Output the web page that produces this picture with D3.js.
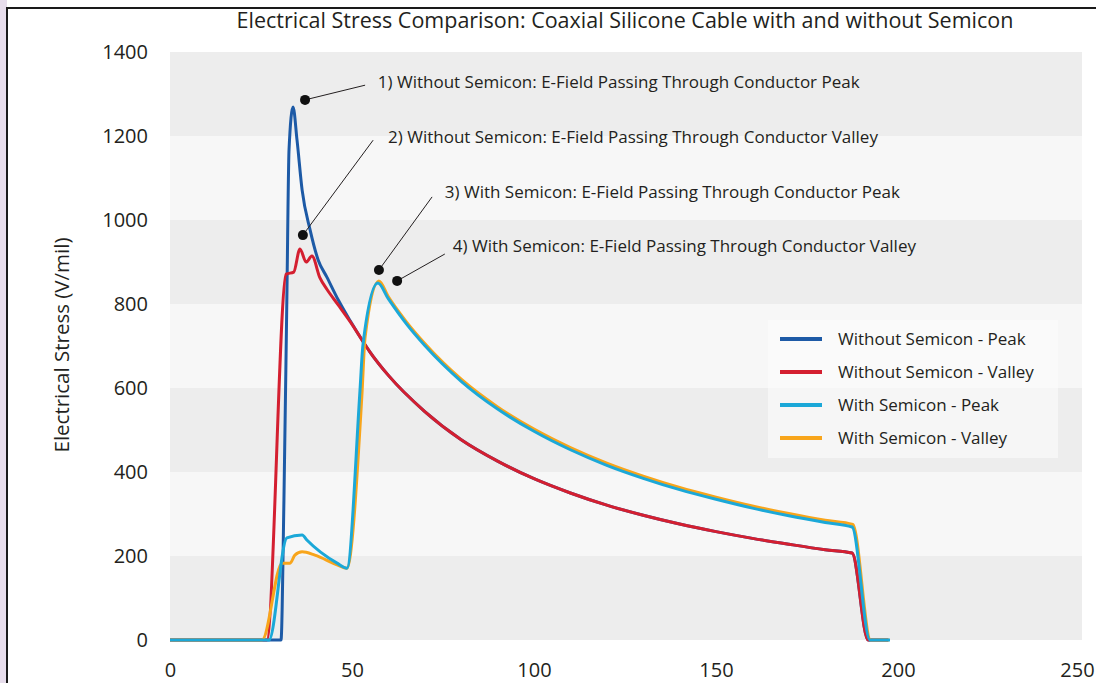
<!DOCTYPE html>
<html>
<head>
<meta charset="utf-8">
<script src="https://cdn.jsdelivr.net/npm/d3@7"></script>
<style>
  body { margin: 0; background: #fff; }
  text { font-family: "Open Sans", "Noto Sans", sans-serif; fill: #231f20; }
</style>
</head>
<body>
<div id="chart"></div>
<script>
// Electrical stress comparison, four line series

// series values as [position, stress] pairs
const noSemiPeak = [[0,0],[30.5,0],[31.3,333],[32.1,810],[32.7,1167],[33.8,1269],[34.9,1190],[36.3,1071],[38.5,976],
  [40.7,905],[43.1,864],[46.2,810],[49.5,760],[53.6,703],[55,685],[60,630],[70,544],[80,477],[90,426],[100,384],
  [110,350],[120,321],[130,297],[140,276],[150,258],[160,242],[170,228],[180,215],[187.4,207],[191.8,0],[197.3,0]];
const noSemiValley = [[0,0],[26.6,0],[31.9,871],[34.0,876],[35.7,931],[37.4,900],[39.0,914],[41.2,862],[43.1,835],
  [46.2,798],[49.5,758],[53.6,703],[55,685],[60,630],[70,544],[80,477],[90,426],[100,384],[110,350],[120,321],
  [130,297],[140,276],[150,258],[160,242],[170,228],[180,215],[187.4,207],[191.8,0],[197.3,0]];
const semiPeak = [[0,0],[27.2,0],[32.1,243],[36.3,250],[37.6,238],[45.9,183],[48.6,171],[52.2,595],[53.0,702],
  [57.1,850],[60,812],[65,752],[70,701],[80,616],[90,550],[100,497],[110,453],[120,416],[130,385],[140,358],
  [150,335],[160,314],[170,296],[180,280],[187.4,269],[192.3,0],[197.8,0]];
const semiValley = [[0,0],[25.3,0],[30.8,183],[33.0,183],[34.3,202],[36.3,210],[39.8,202],[45.9,179],[48.6,171],
  [52.7,580],[53.6,721],[57.4,855],[60,817],[65,757],[70,706],[80,621],[90,555],[100,502],[110,458],[120,421],
  [130,390],[140,363],[150,340],[160,319],[170,301],[180,285],[187.6,275],[192.5,0],[197.5,0]];

// legend names and tick values
const seriesNames = ["Without Semicon - Peak", "Without Semicon - Valley", "With Semicon - Peak", "With Semicon - Valley"];
const xTicks = [0, 50, 100, 150, 200, 250];
const yTicks = [0, 200, 400, 600, 800, 1000, 1200, 1400];

// callouts: dot, end of leader line, label start (data units)
const notes = [
  {text: "1) Without Semicon: E-Field Passing Through Conductor Peak", dot: [37.1, 1286], end: [53.6, 1321], at: [57.1, 1314]},
  {text: "2) Without Semicon: E-Field Passing Through Conductor Valley", dot: [36.5, 964], end: [55.8, 1190], at: [59.9, 1183]},
  {text: "3) With Semicon: E-Field Passing Through Conductor Peak", dot: [57.4, 881], end: [72.0, 1055], at: [75.5, 1052]},
  {text: "4) With Semicon: E-Field Passing Through Conductor Valley", dot: [62.4, 855], end: [75.5, 919], at: [77.7, 924]}
];

const W = 1096, H = 683;
const colors = ["#1d5aa6", "#d41f30", "#1ba8d8", "#f8a51b"];

const svg = d3.select("#chart")
  .append("svg")
    .attr("width", W)
    .attr("height", H);

// scales
const x = d3.scaleLinear().domain([0, 250]).range([170, 1080]);
const y = d3.scaleLinear().domain([0, 1400]).range([640, 52]);

// lavender strip and frame
svg.append("rect").attr("x", 0).attr("y", 0).attr("width", 7).attr("height", H).attr("fill", "#e7ddec");
svg.append("path")
  .attr("d", `M7,${H} L7,8 L${W},8`)
  .attr("fill", "none")
  .attr("stroke", "#1a1a1a")
  .attr("stroke-width", 2);

// alternating background bands
svg.selectAll("rect.band")
  .data(d3.range(0, 1400, 200))
  .enter()
  .append("rect")
    .attr("class", "band")
    .attr("x", x(0))
    .attr("width", 1082 - x(0))
    .attr("y", d => y(d + 200))
    .attr("height", d => y(d) - y(d + 200))
    .attr("fill", d => (d / 200) % 2 === 0 ? "#ededed" : "#f7f7f7");

// legend backdrop
svg.append("rect")
  .attr("x", 768).attr("y", 320).attr("width", 290).attr("height", 138)
  .attr("fill", "#fbfbfb").attr("opacity", 0.6);

// title
svg.append("text")
  .attr("x", 625)
  .attr("y", 28)
  .attr("text-anchor", "middle")
  .style("font-size", "21.5px")
  .text("Electrical Stress Comparison: Coaxial Silicone Cable with and without Semicon");

// y axis (labels only)
svg.append("g")
  .attr("transform", "translate(148,0)")
  .call(d3.axisLeft(y).tickValues(yTicks).tickFormat(d3.format("d")).tickSize(0).tickPadding(0))
  .call(g => g.select(".domain").remove())
  .selectAll("text")
    .attr("dy", "0.3em")
    .style("font-size", "20px")
    .style("font-family", "\"Open Sans\", sans-serif")
    .attr("fill", "#231f20");

// x axis (labels only), last label nudged in from the edge
svg.append("g")
  .attr("transform", "translate(0,663)")
  .call(d3.axisBottom(x).tickValues(xTicks).tickSize(0).tickPadding(0))
  .call(g => g.select(".domain").remove())
  .selectAll("text")
    .attr("dx", d => d === 250 ? "-3" : "0")
    .style("font-size", "20px")
    .style("font-family", "\"Open Sans\", sans-serif")
    .attr("fill", "#231f20");

// y axis title
svg.append("text")
  .attr("transform", "translate(69,345) rotate(-90)")
  .attr("text-anchor", "middle")
  .style("font-size", "20.5px")
  .text("Electrical Stress (V/mil)");

// lines
const line = d3.line()
  .x(d => x(d[0]))
  .y(d => y(d[1]))
  .curve(d3.curveMonotoneX);

const allSeries = [noSemiPeak, noSemiValley, semiValley, semiPeak];
const drawColors = [colors[0], colors[1], colors[3], colors[2]];

svg.selectAll("path.series")
  .data(allSeries)
  .enter()
  .append("path")
    .attr("class", "series")
    .attr("d", line)
    .attr("fill", "none")
    .attr("stroke", (d, i) => drawColors[i])
    .attr("stroke-width", 3)
    .attr("stroke-linejoin", "round");

// callouts
const note = svg.selectAll("g.note")
  .data(notes)
  .enter()
  .append("g")
    .attr("class", "note");

note.append("line")
  .attr("x1", d => x(d.dot[0]))
  .attr("y1", d => y(d.dot[1]))
  .attr("x2", d => x(d.end[0]))
  .attr("y2", d => y(d.end[1]))
  .attr("stroke", "#231f20")
  .attr("stroke-width", 1);

note.append("circle")
  .attr("cx", d => x(d.dot[0]))
  .attr("cy", d => y(d.dot[1]))
  .attr("r", 5)
  .attr("fill", "#111");

note.append("text")
  .attr("x", d => x(d.at[0]))
  .attr("y", d => y(d.at[1]))
  .style("font-size", "17px")
  .text(d => d.text);

// legend
const legend = svg.selectAll("g.legend")
  .data(seriesNames)
  .enter()
  .append("g")
    .attr("class", "legend")
    .attr("transform", (d, i) => `translate(780,${339 + i * 33})`);

legend.append("line")
  .attr("x1", 0).attr("x2", 42)
  .attr("stroke", (d, i) => colors[i])
  .attr("stroke-width", 4);

legend.append("text")
  .attr("x", 58)
  .attr("dy", "0.35em")
  .style("font-size", "17px")
  .text(d => d);
</script>
</body>
</html>
